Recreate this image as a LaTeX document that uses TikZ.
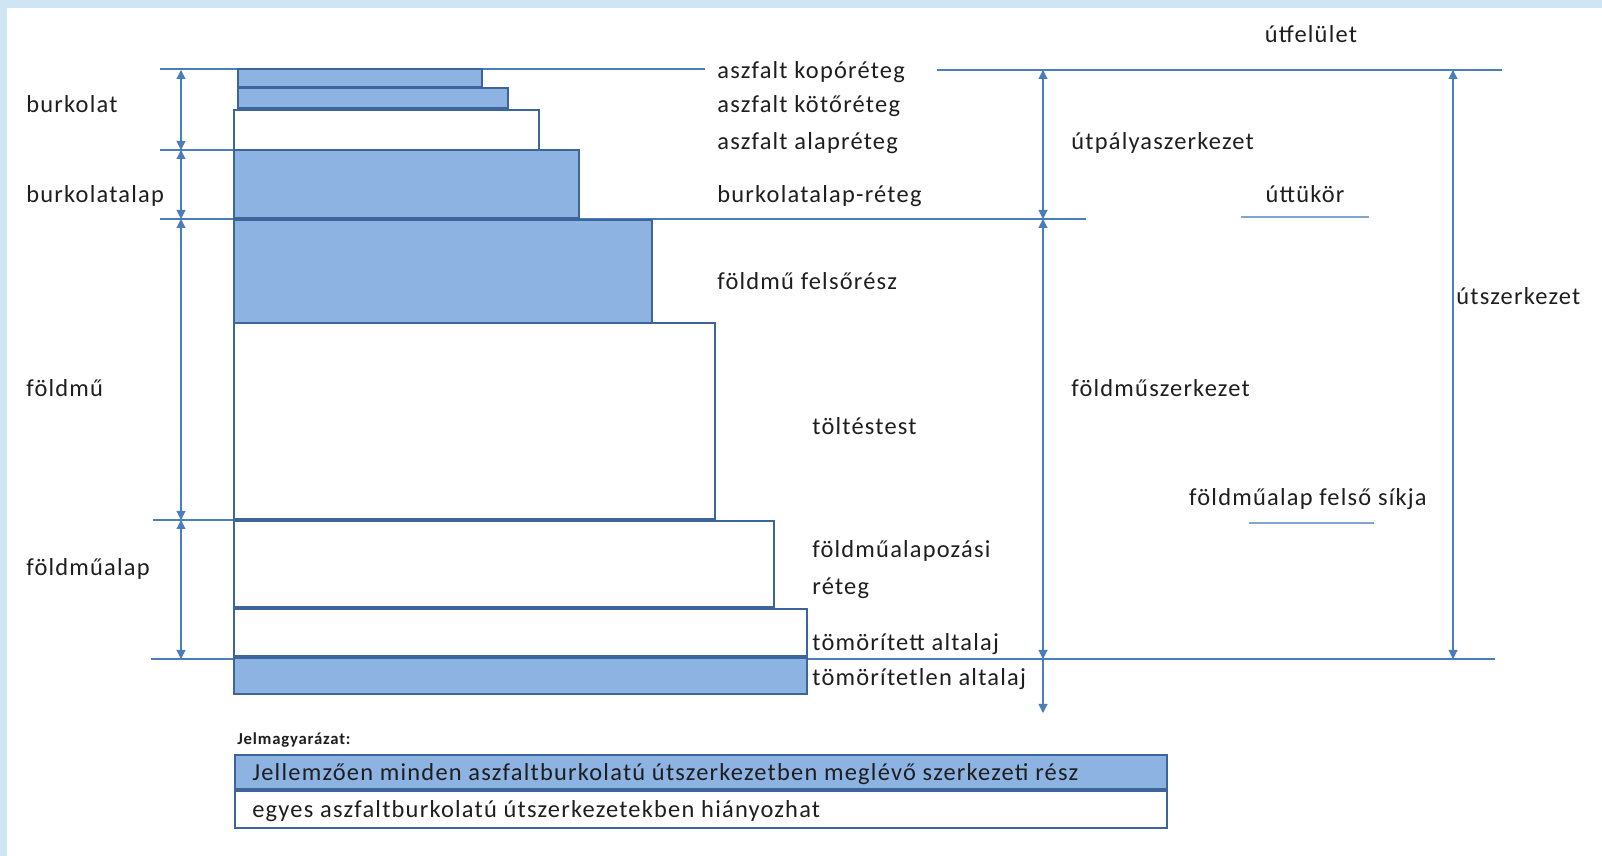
\documentclass[tikz,border=0pt]{standalone}
\usepackage{fontspec}
\setmainfont{Carlito}[LetterSpace=5]
\usepackage{xcolor}
\usetikzlibrary{arrows.meta}
\definecolor{roadframe}{HTML}{D0E5F3}
\definecolor{roadline}{HTML}{4A7EBB}
\definecolor{roadedge}{HTML}{3C659A}
\definecolor{roadfill}{HTML}{8DB3E2}
\definecolor{roadtext}{HTML}{1E1E1E}
\tikzset{
  bluelayer/.style={draw=roadedge, line width=1pt, fill=roadfill},
  whitelayer/.style={draw=roadedge, line width=1pt, fill=white},
  levelline/.style={draw=roadline, line width=1.1pt},
  markline/.style={draw=roadline!70, line width=1.6pt},
  dimarrow/.style={{Triangle[length=1.8mm,width=1.8mm]}-{Triangle[length=1.8mm,width=1.8mm]},
                   draw=roadline, fill=roadline, line width=0.6pt},
  tailarrow/.style={-{Triangle[length=1.8mm,width=1.8mm]}, draw=roadline, fill=roadline, line width=0.6pt},
  lbl/.style={font=\fontsize{13.9}{15}\selectfont, text=roadtext, inner sep=0pt,
              text height=1.6ex, text depth=0.45ex, anchor=west, yshift=-0.8mm},
  clbl/.style={lbl, anchor=center},
  keylbl/.style={font=\fontsize{9.5}{10}\bfseries, text=roadtext, inner sep=0pt, anchor=west},
}

\begin{document}
\begin{tikzpicture}[x=0.2mm, y=-0.2mm]
  \useasboundingbox (0,0) rectangle (1602,856);
  \fill[white] (0,0) rectangle (1602,856);
  \fill[roadframe] (0,0) rectangle (1602,8);
  \fill[roadframe] (0,0) rectangle (7,856);

  % level lines
  \draw[levelline] (160,69) -- (705,69);
  \draw[levelline] (937,70) -- (1502,70);
  \draw[levelline] (160,150) -- (234,150);
  \draw[levelline] (160,219) -- (1086,219);
  \draw[levelline] (153,520) -- (234,520);
  \draw[levelline] (151,659) -- (1495,659);

  % layers
  \filldraw[bluelayer]  (238,69)  rectangle (482,87);
  \filldraw[bluelayer]  (238,88)  rectangle (508,108);
  \filldraw[whitelayer] (234,110) rectangle (539,150);
  \filldraw[bluelayer]  (234,150) rectangle (579,218);
  \filldraw[bluelayer]  (234,220) rectangle (652,323);
  \filldraw[whitelayer] (234,323) rectangle (715,519);
  \filldraw[whitelayer] (234,521) rectangle (774,607);
  \filldraw[whitelayer] (234,609) rectangle (807,656);
  \filldraw[bluelayer]  (234,658) rectangle (807,694);

  % left dimensions
  \coordinate (burk-t) at (181,70);
  \coordinate (burk-b) at (181,150);
  \coordinate (alap-b) at (181,219);
  \coordinate (fold-b) at (181,520);
  \coordinate (fala-b) at (181,659);
  \draw[dimarrow] (burk-t) -- (burk-b);
  \draw[dimarrow] (burk-b) -- (alap-b);
  \draw[dimarrow] (alap-b) -- (fold-b);
  \draw[dimarrow] (fold-b) -- (fala-b);

  \node[lbl] (burkolat) at (26,104) {burkolat};
  \node[lbl] (burkolatalap) at (26,194) {burkolatalap};
  \node[lbl] (foldmu) at (26,388) {földmű};
  \node[lbl] (foldmualap) at (26,567) {földműalap};

  % layer names
  \node[lbl] (kopo) at (717,70) {aszfalt kopóréteg};
  \node[lbl] (koto) at (717,104) {aszfalt kötőréteg};
  \node[lbl] (alapreteg) at (717,141) {aszfalt alapréteg};
  \node[lbl] (burkalapreteg) at (717,194) {burkolatalap-réteg};
  \node[lbl] (felsoresz) at (717,281) {földmű felsőrész};
  \node[lbl] (toltes) at (812,426) {töltéstest};
  \node[lbl] (alapozasi) at (812,549) {földműalapozási};
  \node[lbl] (reteg) at (812,586) {réteg};
  \node[lbl] (tomor) at (812,642) {tömörített altalaj};
  \node[lbl] (tomoratlan) at (812,677) {tömörítetlen altalaj};

  % right dimensions
  \coordinate (utp-t) at (1043,70);
  \coordinate (utp-b) at (1043,219);
  \coordinate (fsz-b) at (1043,659);
  \coordinate (fsz-e) at (1043,713);
  \coordinate (usz-t) at (1453,70);
  \coordinate (usz-b) at (1453,659);
  \draw[dimarrow] (utp-t) -- (utp-b);
  \draw[dimarrow] (utp-b) -- (fsz-b);
  \draw[tailarrow] (fsz-b) -- (fsz-e);
  \draw[dimarrow] (usz-t) -- (usz-b);

  \node[clbl] (utfelulet) at (1311,34) {útfelület};
  \node[lbl] (utpalya) at (1071,141) {útpályaszerkezet};
  \node[clbl] (uttukor) at (1305,194) {úttükör};
  \draw[markline] (1241,217) -- (1369,217);
  \node[lbl] (utszerk) at (1456,296) {útszerkezet};
  \node[lbl] (foldszerk) at (1071,388) {földműszerkezet};
  \node[clbl] (sikja) at (1308,497) {földműalap felső síkja};
  \draw[markline] (1249,523) -- (1374,523);

  % legend
  \node[keylbl] (jelm) at (237,740) {Jelmagyarázat:};
  \filldraw[bluelayer]  (235,755) rectangle (1167,789);
  \filldraw[whitelayer] (235,791) rectangle (1167,828);
  \node[lbl] (key1) at (252,772) {Jellemzően minden aszfaltburkolatú útszerkezetben meglévő szerkezeti rész};
  \node[lbl] (key2) at (252,809) {egyes aszfaltburkolatú útszerkezetekben hiányozhat};
\end{tikzpicture}
\end{document}
